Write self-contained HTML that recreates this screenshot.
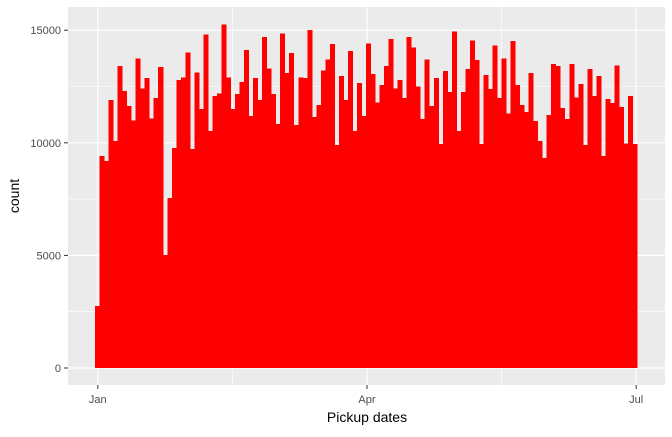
<!DOCTYPE html>
<html><head><meta charset="utf-8"><style>
body{margin:0;background:#fff;}
svg text{font-family:"Liberation Sans",Arial,sans-serif;}
</style></head><body>
<svg id="chart" width="672" height="432" xmlns="http://www.w3.org/2000/svg">
<rect x="0" y="0" width="672" height="432" fill="#fff"/>
<rect x="68" y="7" width="597" height="378" fill="#ebebeb"/>
<g id="grid"></g>
<g id="bars" shape-rendering="crispEdges"></g>
<g id="axes"></g>
<text x="367" y="422" font-size="14" text-anchor="middle" fill="#000">Pickup dates</text>
<text transform="translate(19,196) rotate(-90)" font-size="14" text-anchor="middle" fill="#000">count</text>
</svg>
<script>
const counts=[2750,9410,9185,11890,10070,13400,12290,11625,11000,13750,12420,12870,11090,11980,13355,5010,7540,9760,12780,12910,14020,9720,13130,11490,14820,10515,12070,12200,15260,12910,11490,12160,12690,14110,11180,12870,11890,14690,13310,12160,10830,14860,13090,13980,10780,12910,12870,15000,11140,11670,13220,13710,14380,9900,12960,11890,14070,10515,12650,11180,14420,13045,11800,12560,13400,14600,12420,12780,11980,14690,14240,12510,11050,13710,11625,12870,9940,13180,12250,14950,10515,12250,13270,14550,13670,9940,13000,12380,14330,11980,13750,11310,14510,12560,11670,11360,13090,10960,10070,9320,11230,13490,13400,11540,11050,13490,12020,12600,9900,13270,12070,12960,9410,11940,11760,13440,11580,9980,12070,9940];
const yTicks=[0,5000,10000,15000];
const yTickLabels=["0","5000","10000","15000"];
const xTickDays=[0,90,180];
const xTickLabels=["Jan","Apr","Jul"];
const NS="http://www.w3.org/2000/svg";
const y=v=>368-v*0.02252;
const binW=542/counts.length;
const xb=i=>95+i*binW;
const xd=d=>97.8+d*2.991;
function mk(tag,attrs,parent){const e=document.createElementNS(NS,tag);for(const k in attrs)e.setAttribute(k,attrs[k]);document.getElementById(parent).appendChild(e);return e;}
for(let i=0;i<yTicks.length-1;i++){const l=mk('line',{x1:68,x2:665,y1:y((yTicks[i]+yTicks[i+1])/2),y2:y((yTicks[i]+yTicks[i+1])/2),stroke:'#fff','stroke-width':0.6},'grid');

}
for(let i=0;i<xTickDays.length-1;i++){const xm=xd((xTickDays[i]+xTickDays[i+1])/2);const l=mk('line',{x1:xm,x2:xm,y1:7,y2:385,stroke:'#fff','stroke-width':0.6},'grid');

}
yTicks.forEach((t,i)=>{const l=mk('line',{x1:68,x2:665,y1:y(t),y2:y(t),stroke:'#fff','stroke-width':1.2},'grid');


const tk=mk('line',{x1:64,x2:68,y1:y(t),y2:y(t),stroke:'#333','stroke-width':1},'axes');


const tx=mk('text',{x:61,y:y(t)+4,'font-size':11,'text-anchor':'end',fill:'#4d4d4d'},'axes');tx.textContent=yTickLabels[i];

});
xTickDays.forEach((d,i)=>{const l=mk('line',{x1:xd(d),x2:xd(d),y1:7,y2:385,stroke:'#fff','stroke-width':1.2},'grid');


const tk=mk('line',{x1:xd(d),x2:xd(d),y1:385,y2:389,stroke:'#333','stroke-width':1},'axes');


const tx=mk('text',{x:xd(d),y:403,'font-size':11,'text-anchor':'middle',fill:'#4d4d4d'},'axes');tx.textContent=xTickLabels[i];

});
counts.forEach((c,i)=>{const r=mk('rect',{x:xb(i),y:y(c),width:binW+0.5,height:y(0)-y(c),fill:'#ff0000'},'bars');

});
</script>
</body></html>
